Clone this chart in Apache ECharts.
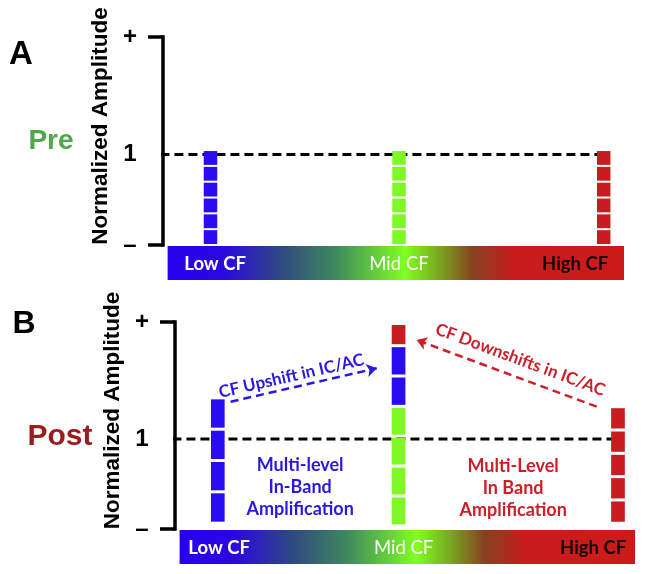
<!DOCTYPE html>
<html><head><meta charset="utf-8">
<script src="https://cdn.jsdelivr.net/npm/echarts@6/dist/echarts.min.js"></script>
<style>html,body{margin:0;padding:0;background:#fff}#c{width:645px;height:574px}</style>
</head><body><div id="c"></div>
<script>
// ---------------- data ----------------
const cfLabels = ['Low CF', 'Mid CF', 'High CF'];
const yTickValues = [0, 1, 2.3];
const yTickLabels = ['\u2013', '1', '+'];
const yMax = 2.3;
const normLevel = 1;
const unitLineStart = -3.6;
const bandExtent = [1, 100];

// Panel A (Pre)
const preBarX = [10.3, 51.2, 95.6];
const preBase = [0, 0, 0];
const preLowSegments = [0.175, 0.175, 0.175, 0.175, 0.175, 0.175];
const preMidSegments = [0.175, 0.175, 0.175, 0.175, 0.175, 0.175];
const preHighSegments = [0.175, 0.175, 0.175, 0.175, 0.175, 0.175];
const preLowSources = ['low', 'low', 'low', 'low', 'low', 'low'];
const preMidSources = ['mid', 'mid', 'mid', 'mid', 'mid', 'mid'];
const preHighSources = ['high', 'high', 'high', 'high', 'high', 'high'];
const preLabelX = [11.3, 51.2, 89.4];

// Panel B (Post)
const postBarX = [9.3, 48.6, 96.3];
const postBase = [0.065, 0.035, 0.064];
const postLowSegments = [0.348, 0.348, 0.348, 0.348];
const postMidSegments = [0.332, 0.332, 0.332, 0.332, 0.337, 0.337, 0.246];
const postHighSegments = [0.259, 0.259, 0.259, 0.259, 0.259];
const postLowSources = ['low', 'low', 'low', 'low'];
const postMidSources = ['mid', 'mid', 'mid', 'mid', 'low', 'low', 'high'];
const postHighSources = ['high', 'high', 'high', 'high', 'high'];
const postLabelX = [9.6, 49.7, 90.9];

// Annotations (Panel B)
const upshiftFrom = [12.1, 1.414];
const upshiftTo = [43.85, 1.786];
const downshiftFrom = [91.67, 1.359];
const downshiftTo = [52.54, 2.10];
const upshiftText = 'CF Upshift in IC/AC';
const downshiftText = 'CF Downshifts in IC/AC';
const noteLowText = ['Multi-level', 'In-Band', 'Amplification'];
const noteHighText = ['Multi-Level', 'In Band', 'Amplification'];
const noteLowPos = [27.2, 0.461];
const noteHighPos = [73.5, 0.456];

// ---------------- styles ----------------
const sourceColors = { low: '#2a0cf0', mid: '#80f828', high: '#c81c20' };
const blueText = '#2a18e0';
const redText = '#cc1f27';
const arial = "'Liberation Sans', Arial, sans-serif";
const calibri = "Lato, 'Open Sans', sans-serif";
const bandStops = [
  { offset: 0, color: '#2800f0' },
  { offset: 0.12, color: '#2a08e0' },
  { offset: 0.25, color: '#2f4a80' },
  { offset: 0.37, color: '#3f8a5c' },
  { offset: 0.52, color: '#80ff22' },
  { offset: 0.60, color: '#7aa020' },
  { offset: 0.67, color: '#884020' },
  { offset: 0.76, color: '#c81c1c' },
  { offset: 1, color: '#cc1a1a' }
];

function segmentData(barX, base, segLists, srcLists) {
  const out = [];
  barX.forEach(function (x, i) {
    let y = base[i];
    segLists[i].forEach(function (v, k) {
      out.push({ value: [x, y, y + v], src: srcLists[i][k] });
      y += v;
    });
  });
  return out;
}

function segSeries(gridIdx, data, barW, gap) {
  return {
    type: 'custom', xAxisIndex: gridIdx, yAxisIndex: gridIdx, z: 5,
    encode: { x: 0, y: [1, 2] },
    data: data.map(d => d.value),
    renderItem: function (params, api) {
      const x = api.value(0);
      const top = api.coord([x, api.value(2)]);
      const bot = api.coord([x, api.value(1)]);
      return {
        type: 'rect',
        shape: { x: top[0] - barW / 2, y: top[1] + gap / 2, width: barW, height: bot[1] - top[1] - gap },
        style: { fill: sourceColors[data[params.dataIndex].src] }
      };
    }
  };
}

function bandSeries(gridIdx) {
  return {
    type: 'custom', xAxisIndex: gridIdx, yAxisIndex: gridIdx, z: 1, clip: false,
    encode: { x: [0, 1] },
    data: [bandExtent],
    renderItem: function (params, api) {
      const a = api.coord([api.value(0), 0]);
      const b = api.coord([api.value(1), 0]);
      return {
        type: 'rect',
        shape: { x: a[0], y: a[1] + 1, width: b[0] - a[0], height: 34 },
        style: { fill: new echarts.graphic.LinearGradient(0, 0, 1, 0, bandStops) }
      };
    }
  };
}

function dashSeries(gridIdx, barX, extra) {
  return Object.assign({
    type: 'line', xAxisIndex: gridIdx, yAxisIndex: gridIdx, z: 3, clip: false,
    symbol: 'none', silent: true,
    data: [[unitLineStart, normLevel], [barX[barX.length - 1], normLevel]],
    lineStyle: { color: '#000', width: 3, type: [9, 5] }
  }, extra || {});
}

function yAxisCfg(gridIdx) {
  return {
    gridIndex: gridIdx, type: 'value', min: 0, max: yMax,
    axisLine: { show: true, lineStyle: { color: '#000', width: 3.5, cap: 'square' } },
    axisTick: { show: true, customValues: [yTickValues[0], yTickValues[2]], length: 15, lineStyle: { color: '#000', width: 3.5 } },
    axisLabel: {
      customValues: yTickValues, margin: 33, align: 'center',
      fontSize: 24, fontWeight: 'bold', color: '#000', fontFamily: arial,
      formatter: function (v) {
        let best = 0;
        yTickValues.forEach((t, i) => { if (Math.abs(t - v) < Math.abs(yTickValues[best] - v)) best = i; });
        return yTickLabels[best];
      }
    },
    splitLine: { show: false },
    name: 'Normalized Amplitude', nameLocation: 'middle', nameRotate: 90, nameGap: 51,
    nameMoveOverlap: false,
    nameTextStyle: { fontSize: 22.5, fontWeight: 'bold', color: '#000', fontFamily: arial, padding: [0, 0, 0, 30] }
  };
}

function xAxisCfg(gridIdx, labelX) {
  return {
    gridIndex: gridIdx, type: 'value', min: 0, max: 100, z: 10,
    axisLine: { show: false }, axisTick: { show: false }, splitLine: { show: false },
    axisLabel: {
      customValues: labelX, margin: 10,
      formatter: function (v) {
        let best = 0;
        labelX.forEach((t, i) => { if (Math.abs(t - v) < Math.abs(labelX[best] - v)) best = i; });
        return '{c' + best + '|' + cfLabels[best] + '}';
      },
      rich: {
        c0: { color: '#fff', fontWeight: 'bold', fontSize: 18.5, fontFamily: calibri },
        c1: { color: '#fff', fontWeight: 'normal', fontSize: 18.5, fontFamily: calibri },
        c2: { color: '#1a0808', fontWeight: 'bold', fontSize: 18.5, fontFamily: calibri }
      }
    }
  };
}

const preData = segmentData(preBarX, preBase,
  [preLowSegments, preMidSegments, preHighSegments],
  [preLowSources, preMidSources, preHighSources]);
const postData = segmentData(postBarX, postBase,
  [postLowSegments, postMidSegments, postHighSegments],
  [postLowSources, postMidSources, postHighSources]);

const arrowLabel = { show: true, position: 'middle', fontSize: 17, fontWeight: 'bold', fontFamily: calibri };

const chart = echarts.init(document.getElementById('c'), null, { width: 645, height: 574 });
chart.setOption({
  animation: false,
  backgroundColor: '#fff',
  grid: [
    { left: 163, top: 37, width: 461, height: 208, containLabel: false, outerBoundsMode: 'none' },
    { left: 175, top: 322, width: 460, height: 207, containLabel: false, outerBoundsMode: 'none' }
  ],
  xAxis: [xAxisCfg(0, preLabelX), xAxisCfg(1, postLabelX)],
  yAxis: [yAxisCfg(0), yAxisCfg(1)],
  graphic: [
    { type: 'text', x: 21, y: 55, style: { text: 'A', fontSize: 33, fontWeight: 'bold', fill: '#000', fontFamily: arial, align: 'center', verticalAlign: 'middle' } },
    { type: 'text', x: 51, y: 141, style: { text: 'Pre', fontSize: 28, fontWeight: 'bold', fill: '#4fa84a', fontFamily: arial, align: 'center', verticalAlign: 'middle' } },
    { type: 'text', x: 24, y: 324, style: { text: 'B', fontSize: 32, fontWeight: 'bold', fill: '#000', fontFamily: arial, align: 'center', verticalAlign: 'middle' } },
    { type: 'text', x: 60, y: 437, style: { text: 'Post', fontSize: 30, fontWeight: 'bold', fill: '#9e1b1b', fontFamily: arial, align: 'center', verticalAlign: 'middle' } }
  ],
  series: [
    bandSeries(0),
    bandSeries(1),
    dashSeries(0, preBarX),
    dashSeries(1, postBarX, {
      markLine: {
        silent: true, animation: false, symbol: ['none', 'arrow'], symbolSize: 10,
        lineStyle: { type: [8, 5], width: 2.5 },
        data: [
          [{ coord: upshiftFrom, lineStyle: { color: blueText, type: [8, 5], width: 2.5, opacity: 1 },
             label: Object.assign({}, arrowLabel, { formatter: upshiftText, color: blueText, distance: 3, padding: [0, 20, 0, 0] }) },
           { coord: upshiftTo }],
          [{ coord: downshiftFrom, lineStyle: { color: redText, type: [8, 5], width: 2.5, opacity: 1 },
             label: Object.assign({}, arrowLabel, { formatter: downshiftText, color: redText, distance: 9, padding: [0, 0, 0, 16] }) },
           { coord: downshiftTo }]
        ]
      }
    }),
    segSeries(0, preData, 13.5, 2),
    segSeries(1, postData, 13.7, 3),
    {
      type: 'scatter', xAxisIndex: 1, yAxisIndex: 1, z: 6, silent: true,
      symbolSize: 1, itemStyle: { color: '#fff', opacity: 1 },
      data: [
        { value: noteLowPos, label: { formatter: noteLowText.join('\n'), color: blueText } },
        { value: noteHighPos, label: { formatter: noteHighText.join('\n'), color: redText } }
      ],
      label: { show: true, position: 'inside', fontSize: 18, fontWeight: 'bold', fontFamily: calibri, lineHeight: 22, align: 'center', verticalAlign: 'middle', opacity: 1 }
    }
  ]
});
</script>
</body></html>
